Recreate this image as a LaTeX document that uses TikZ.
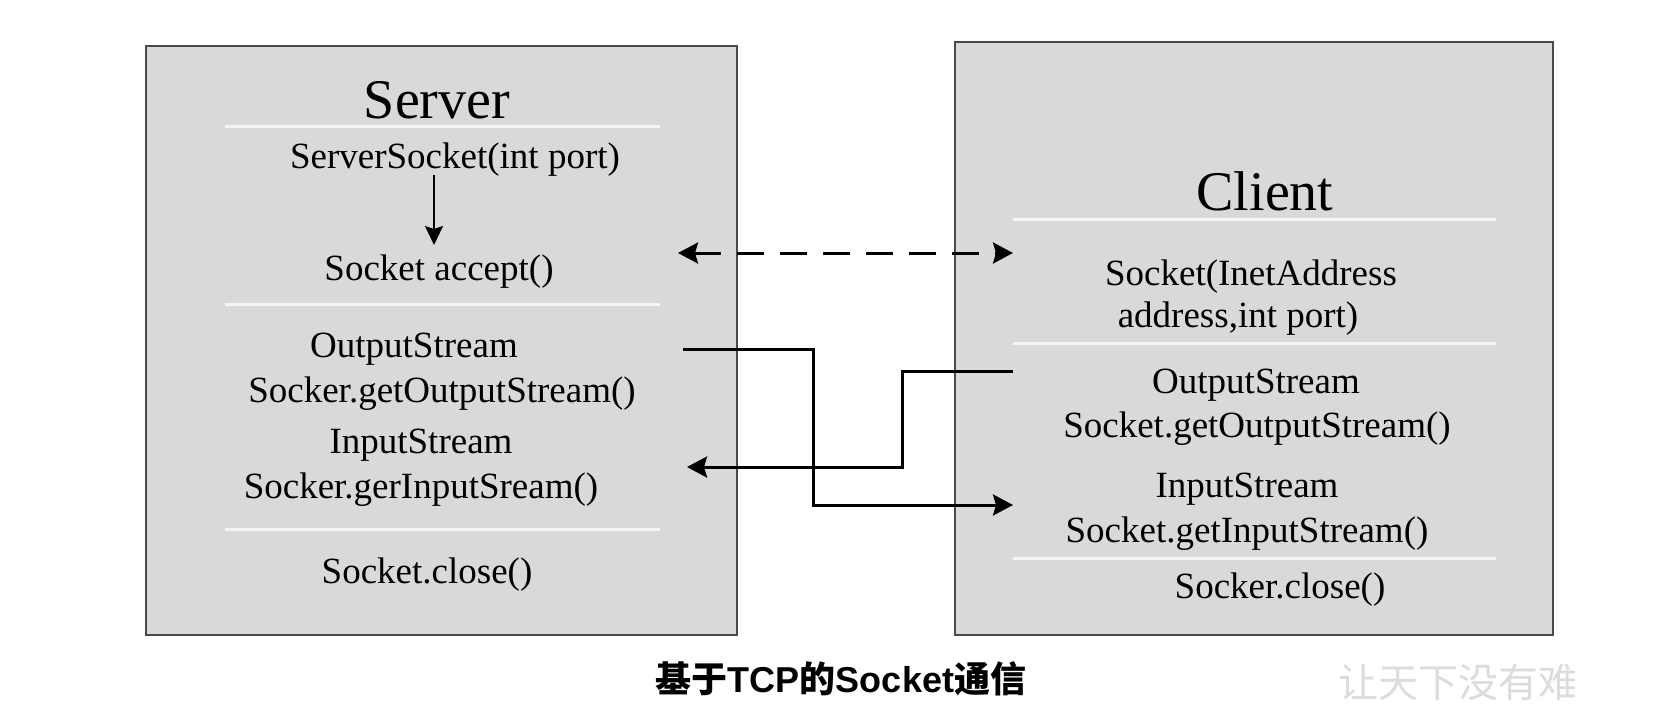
\documentclass[tikz,border=0pt]{standalone}
\usepackage{fontspec}
\setmainfont{Liberation Serif}
\newfontfamily\cjkfont{Noto Sans CJK SC}
\newfontfamily\capsans{Liberation Sans}
\usetikzlibrary{arrows.meta}
\definecolor{boxfill}{HTML}{D9D9D9}
\definecolor{boxedge}{HTML}{4A4A4A}
\definecolor{wmark}{HTML}{DCDCDC}
\tikzset{
  txt/.style={font=\fontsize{37}{44}\selectfont, inner sep=0pt, anchor=base},
  ttl/.style={font=\fontsize{56}{66}\selectfont, inner sep=0pt, anchor=base},
  panel/.style={draw=boxedge, fill=boxfill, line width=2.8pt, inner sep=0pt},
  sepline/.style={draw=white!96!black, line width=3pt},
  conn/.style={line width=3pt, -{Stealth[length=20pt,width=21pt,inset=3pt]}},
  dconn/.style={line width=3pt, dash pattern=on 27pt off 16pt,
     {Stealth[length=20pt,width=21pt,inset=3pt]}-{Stealth[length=20pt,width=21pt,inset=3pt]}},
}
\begin{document}
\begin{tikzpicture}[x=1pt,y=-1pt]
\useasboundingbox (0,0) rectangle (1674,724);
% boxes
\node[panel, minimum width=591pt, minimum height=589pt] (server) at (441.5,340.5) {};
\node[panel, minimum width=598pt, minimum height=593pt] (client) at (1254,338.5) {};
% separators
\draw[sepline] (225,126) -- (660,126);
\draw[sepline] (225,304) -- (660,304);
\draw[sepline] (225,529) -- (660,529);
\draw[sepline] (1013,219) -- (1496,219);
\draw[sepline] (1013,343) -- (1496,343);
\draw[sepline] (1013,558) -- (1496,558);
% server texts
\node[ttl] (stitle) at (437,118) {Server};
\node[txt] (ss) at (455,168) {ServerSocket(int port)};
\node[txt] (acc) at (439,280) {Socket accept()};
\node[txt] (sos1) at (414,357) {OutputStream};
\node[txt] (sos2) at (442,402) {Socker.getOutputStream()};
\node[txt] (sis1) at (421,453) {InputStream};
\node[txt] (sis2) at (421,498) {Socker.gerInputSream()};
\node[txt] (sclose) at (427,583) {Socket.close()};
% client texts
\node[ttl] (ctitle) at (1265,210) {Client};
\node[txt] (csock1) at (1251,285) {Socket(InetAddress};
\node[txt] (csock2) at (1238,327) {address,int port)};
\node[txt] (cos1) at (1256,393) {OutputStream};
\node[txt] (cos2) at (1257,437) {Socket.getOutputStream()};
\node[txt] (cis1) at (1247,497) {InputStream};
\node[txt] (cis2) at (1247,542) {Socket.getInputStream()};
\node[txt] (cclose) at (1280,598) {Socker.close()};
% connector end points
\coordinate (ssdown) at (434,175);
\coordinate (accup) at (434,245);
\coordinate (accR) at (678,253);
\coordinate (connL) at (1013,253);
\coordinate (soR) at (683,349);
\coordinate (ciL) at (1013,505);
\coordinate (coL) at (1013,371);
\coordinate (siR) at (687,467);
\coordinate (m1) at (813,420);
\coordinate (m2) at (902,420);
% connectors
\draw[line width=2pt, -{Stealth[length=19pt,width=18pt,inset=3pt]}] (ssdown) -- (accup);
\draw[dconn] (accR) -- (connL);
\draw[conn] (soR) -| (m1) |- (ciL);
\draw[conn] (coL) -| (m2) |- (siR);
% caption
\node[anchor=base, inner sep=0pt, font=\fontsize{36}{42}\selectfont] (cap) at (841,692)
  {{\cjkfont\bfseries 基于}{\capsans\bfseries TCP}{\cjkfont\bfseries 的}{\capsans\bfseries Socket}{\cjkfont\bfseries 通信}};
% watermark
\begin{scope}
\clip (1300,640) rectangle (1574,724);
\node[anchor=base west, inner sep=0pt, text=wmark, font=\fontsize{40}{44}\selectfont\cjkfont] (wm) at (1338,697) {让天下没有难};
\end{scope}
\end{tikzpicture}
\end{document}
